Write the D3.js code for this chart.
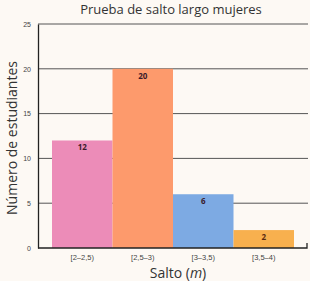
<!DOCTYPE html>
<html>
<head>
<meta charset="utf-8">
<script src="https://cdn.jsdelivr.net/npm/d3@7"></script>
<style>
  body { margin: 0; background: #fdf9f4; }
  svg { display: block; font-family: "Open Sans", "Noto Sans", sans-serif; }
</style>
</head>
<body>
<div id="chart"></div>
<script>

// data
var categories = ["[2\u20132,5)", "[2,5\u20133)", "[3\u20133,5)", "[3,5\u20134)"];
var counts = [12, 20, 6, 2];
var barColors = ["#ec8cb8", "#fd9a6c", "#7daae3", "#f8b04e"];
var yTicks = [0, 5, 10, 15, 20, 25];

var W = 310, H = 281;
var margin = { top: 24, right: 2, bottom: 33, left: 38 },
    width = W - margin.left - margin.right,
    height = H - margin.top - margin.bottom;

var svg = d3.select("#chart").append("svg")
    .attr("width", W)
    .attr("height", H);

var g = svg.append("g")
    .attr("transform", "translate(" + margin.left + "," + margin.top + ")");

var y = d3.scaleLinear().domain([0, 25]).range([height, 0]);

// bars sit between x=52 and x=294 of the picture
var x = d3.scaleBand().domain(categories).range([14, 256]).padding(0);

// gridlines
g.selectAll("line.grid")
    .data(yTicks.filter(function (d) { return d > 0; }))
    .enter().append("line")
    .attr("class", "grid")
    .attr("x1", 0)
    .attr("x2", width)
    .attr("y1", function (d) { return y(d); })
    .attr("y2", function (d) { return y(d); })
    .attr("stroke", "#555")
    .attr("stroke-width", 1);

// bars
g.selectAll("rect.bar")
    .data(counts)
    .enter().append("rect")
    .attr("class", "bar")
    .attr("x", function (d, i) { return x(categories[i]); })
    .attr("width", x.bandwidth())
    .attr("y", function (d) { return y(d); })
    .attr("height", function (d) { return height - y(d); })
    .attr("fill", function (d, i) { return barColors[i]; });

// value labels
g.selectAll("text.val")
    .data(counts)
    .enter().append("text")
    .attr("class", "val")
    .attr("x", function (d, i) { return x(categories[i]) + x.bandwidth() / 2; })
    .attr("y", function (d) { return y(d) + 10; })
    .attr("text-anchor", "middle")
    .attr("font-size", 8)
    .attr("font-weight", "bold")
    .attr("fill", function (d, i) { return i == 3 ? "#5a2a10" : "#3a1a2a"; })
    .text(function (d) { return d; });

// y axis
var yAxis = d3.axisLeft(y).tickValues(yTicks).tickSize(0).tickPadding(7);
var ya = g.append("g").call(yAxis);
ya.select(".domain").attr("stroke", "#222").attr("stroke-width", 1.3);
ya.selectAll("text").attr("font-size", 7).attr("fill", "#444");

// x axis
var xAxis = d3.axisBottom(x).tickSize(0).tickPadding(7);
var xa = g.append("g")
    .attr("transform", "translate(0," + height + ")")
    .call(xAxis);
xa.select(".domain").remove();
xa.selectAll("text").attr("font-size", 7.5).attr("fill", "#444");

g.append("path")
    .attr("d", "M0," + height + "H" + (width - 1) + "V" + (height - 5))
    .attr("fill", "none")
    .attr("stroke", "#222")
    .attr("stroke-width", 1.3);

// titles
svg.append("text")
    .attr("x", 171)
    .attr("y", 14)
    .attr("text-anchor", "middle")
    .attr("font-size", 13)
    .attr("fill", "#333")
    .text("Prueba de salto largo mujeres");

var xt = svg.append("text")
    .attr("x", 178)
    .attr("y", 278)
    .attr("text-anchor", "middle")
    .attr("font-size", 14)
    .attr("fill", "#333");
xt.append("tspan").text("Salto (");
xt.append("tspan").attr("font-style", "italic").text("m");
xt.append("tspan").text(")");

svg.append("text")
    .attr("transform", "translate(17,138) rotate(-90)")
    .attr("text-anchor", "middle")
    .attr("font-size", 14)
    .attr("fill", "#333")
    .text("N\u00famero de estudiantes");

</script>
</body>
</html>
